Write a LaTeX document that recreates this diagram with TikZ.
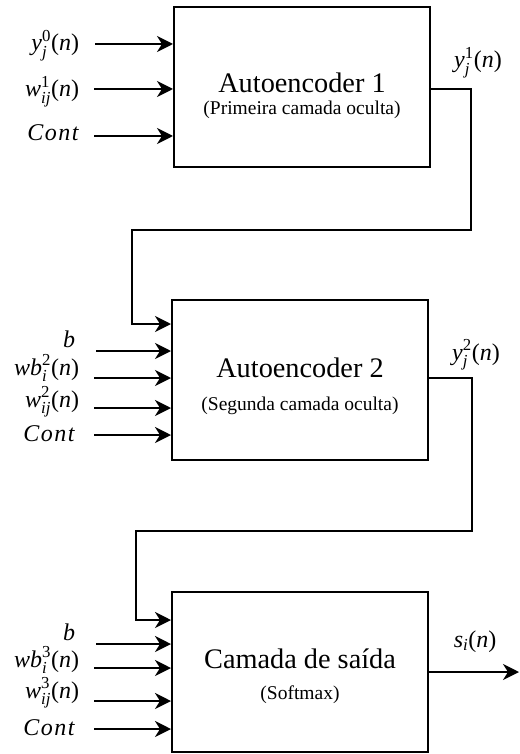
\documentclass[tikz,border=0pt]{standalone}
\usepackage{amsmath}
\usepackage{fontspec}
\setmainfont{Liberation Serif}
\usetikzlibrary{arrows.meta}

% italic variable in text font, scaled correctly in scripts
\newcommand\vi[1]{\text{\itshape #1}}
\newcommand\argn{\text{(\itshape n\/\upshape)}}
\newcommand\sups[1]{\text{#1}}
\newcommand\contlbl{\textit{C\kern1.5pt o\kern1.5pt n\kern1.5pt t}}

\begin{document}
\begin{tikzpicture}[x=1pt,y=-1pt,
  line width=2pt,
  block/.style={draw,line width=2pt,minimum width=256pt,minimum height=160pt,inner sep=0pt},
  title/.style={anchor=base,font=\fontsize{28.3}{31}\selectfont,inner sep=0pt},
  subtitle/.style={anchor=base,font=\fontsize{19.5}{22}\selectfont,inner sep=0pt},
  inlbl/.style={anchor=base east,font=\fontsize{24}{27}\selectfont,inner sep=0pt},
  outlbl/.style={anchor=base,font=\fontsize{24}{27}\selectfont,inner sep=0pt},
  arr/.style={-{Stealth[length=16pt,width=16pt,inset=5pt]},line width=2pt}]

\useasboundingbox (0,0) rectangle (519,754);

% ---- blocks ----
\node[block] (b1) at (302,87.5) {};
\node[block] (b2) at (300,379.5) {};
\node[block] (b3) at (300,672) {};

\node[title]    (t1) at (302,93)  {Autoencoder 1};
\node[subtitle] (s1) at (302,115) {(Primeira camada oculta)};
\node[title]    (t2) at (300,377) {Autoencoder 2};
\node[subtitle] (s2) at (300,410) {(Segunda camada oculta)};
\node[title]    (t3) at (300,668) {Camada de saída};
\node[subtitle] (s3) at (300,699) {(Softmax)};

% ---- inputs of block 1 ----
\node[inlbl] (l11) at (80,51)  {$\vi{y}^{\sups{0}}_{\vi{j}}\argn$};
\node[inlbl] (l12) at (80,97)  {$\vi{w}^{\sups{1}}_{\vi{ij}}\argn$};
\node[inlbl] (l13) at (80,141) {\contlbl};
\coordinate (i11) at (95,44);
\coordinate (i12) at (94,89);
\coordinate (i13) at (94,136);
\foreach \c in {i11,i12,i13} \draw[arr] (\c) -- (\c -| b1.west);

% ---- inputs of block 2 ----
\node[inlbl] (l21) at (76,347) {\textit{b}};
\node[inlbl] (l22) at (80,375) {$\vi{wb}^{\sups{2}}_{\vi{i}}\argn$};
\node[inlbl] (l23) at (80,407) {$\vi{w}^{\sups{2}}_{\vi{ij}}\argn$};
\node[inlbl] (l24) at (76,441) {\contlbl};
\coordinate (i21) at (96,351);
\coordinate (i22) at (94,378);
\coordinate (i23) at (94,408);
\coordinate (i24) at (94,435);
\foreach \c in {i21,i22,i23,i24} \draw[arr] (\c) -- (\c -| b2.west);

% ---- inputs of block 3 ----
\node[inlbl] (l31) at (76,640) {\textit{b}};
\node[inlbl] (l32) at (80,667) {$\vi{wb}^{\sups{3}}_{\vi{i}}\argn$};
\node[inlbl] (l33) at (80,698) {$\vi{w}^{\sups{3}}_{\vi{ij}}\argn$};
\node[inlbl] (l34) at (76,735) {\contlbl};
\coordinate (i31) at (96,644);
\coordinate (i32) at (94,668);
\coordinate (i33) at (94,701);
\coordinate (i34) at (94,729);
\foreach \c in {i31,i32,i33,i34} \draw[arr] (\c) -- (\c -| b3.west);

% ---- outputs and feedback to next block ----
\node[outlbl] (y1) at (478,68)  {$\vi{y}^{\sups{1}}_{\vi{j}}\argn$};
\node[outlbl] (y2) at (476,360) {$\vi{y}^{\sups{2}}_{\vi{j}}\argn$};
\node[outlbl] (so) at (475,647) {$\vi{s}_{\vi{i}}\argn$};

\coordinate (o1) at (b1.east |- 0,89);
\coordinate (c1) at (471,230);
\coordinate (c2) at (132,324);
\draw[arr] (o1) -| (c1) -| (c2) -- (c2 -| b2.west);

\coordinate (o2) at (b2.east |- 0,378);
\coordinate (c3) at (472,531);
\coordinate (c4) at (136,620);
\draw[arr] (o2) -| (c3) -| (c4) -- (c4 -| b3.west);

\coordinate (o3) at (519,672);
\draw[arr] (b3.east |- o3) -- (o3);
\end{tikzpicture}
\end{document}
